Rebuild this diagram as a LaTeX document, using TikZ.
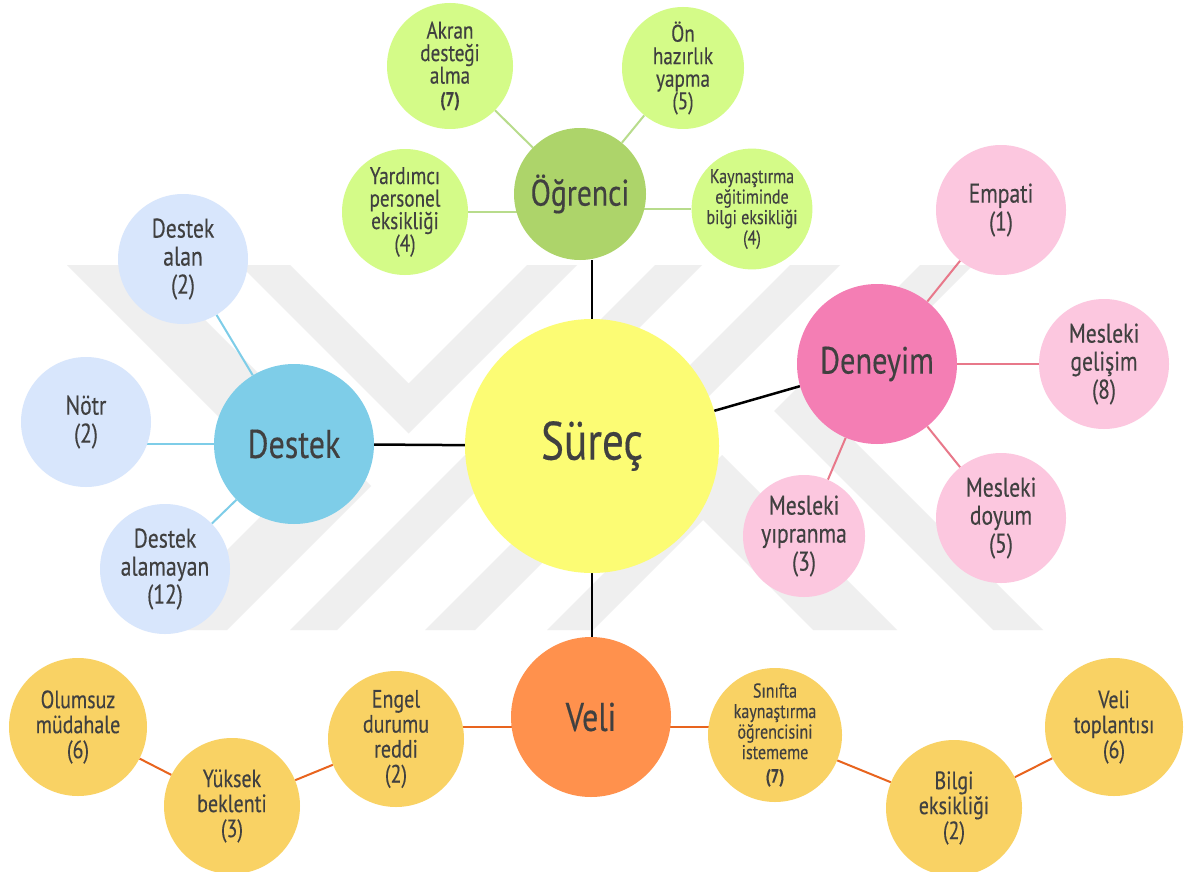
\documentclass[tikz,border=0pt]{standalone}
\usepackage{fontspec}
\setmainfont{PT Sans}[FakeStretch=0.8,FakeBold=0.3]
\usetikzlibrary{backgrounds,calc}
\definecolor{txt}{HTML}{404040}
\definecolor{cS}{HTML}{FCFC74}
\definecolor{cO}{HTML}{ADD46A}
\definecolor{cOl}{HTML}{D4FB88}
\definecolor{cOline}{HTML}{B8DC8C}
\definecolor{cD}{HTML}{7ECDE8}
\definecolor{cDl}{HTML}{D8E6FC}
\definecolor{cDline}{HTML}{7ECDE8}
\definecolor{cE}{HTML}{F47EB4}
\definecolor{cEl}{HTML}{FCC7DF}
\definecolor{cEline}{HTML}{E8788A}
\definecolor{cV}{HTML}{FF914D}
\definecolor{cVl}{HTML}{F9D264}
\definecolor{cVline}{HTML}{E8641E}
\definecolor{wmark}{HTML}{EFEFEF}
\newcommand\fsz[2]{\fontsize{#1}{#2}\selectfont}
\begin{document}
\begin{tikzpicture}[x=1pt,y=-1pt,
  bubble/.style={circle,inner sep=0pt,align=center,text=txt},
  bigsub/.style={font=\fsz{27}{28}},
  midsub/.style={font=\fsz{25}{25}},
  smallsub/.style={font=\fsz{24}{22.5}},
  tinysub/.style={font=\fsz{20}{20.5}},
  link/.style={line width=2.5pt,black},
  glink/.style={line width=2pt,cOline},
  blink/.style={line width=2pt,cDline},
  plink/.style={line width=2pt,cEline},
  olink/.style={line width=2pt,cVline},
  wm/.style={fill=wmark}]
\useasboundingbox (0,0) rectangle (1185,872);

% centre
\node[bubble,fill=cS,minimum size=254pt,font=\fsz{54}{54}] (S) at (592,446) {Süreç};

% Ogrenci group
\node[bubble,fill=cO,minimum size=132pt,font=\fsz{37}{37}] (O) at (580,194) {Öğrenci};
\node[bubble,fill=cOl,minimum size=126pt,smallsub] (A) at (450,66) {Akran\\desteği\\alma\\{\fsz{20}{20}\bfseries(7)}};
\node[bubble,fill=cOl,minimum size=122pt,smallsub] (On) at (683,68) {Ön\\hazırlık\\yapma\\(5)};
\node[bubble,fill=cOl,minimum size=126pt,smallsub] (Y) at (405,212) {Yardımcı\\personel\\eksikliği\\(4)};
\node[bubble,fill=cOl,minimum size=120pt,tinysub] (K) at (752,209) {Kaynaştırma\\eğitiminde\\bilgi eksikliği\\(4)};

% Destek group
\node[bubble,fill=cD,minimum size=160pt,font=\fsz{40}{40}] (D) at (294,444) {Destek};
\node[bubble,fill=cDl,minimum size=130pt,bigsub] (DA) at (183,259) {Destek\\alan\\(2)};
\node[bubble,fill=cDl,minimum size=130pt,bigsub] (N) at (86,422) {Nötr\\(2)};
\node[bubble,fill=cDl,minimum size=130pt,bigsub] (DM) at (165,569) {Destek\\alamayan\\(12)};

% Deneyim group
\node[bubble,fill=cE,minimum size=160pt,font=\fsz{38}{38}] (E) at (877,364) {Deneyim};
\node[bubble,fill=cEl,minimum size=130pt,bigsub] (Em) at (1001,210) {Empati\\(1)};
\node[bubble,fill=cEl,minimum size=130pt,bigsub] (MG) at (1104,364) {Mesleki\\gelişim\\(8)};
\node[bubble,fill=cEl,minimum size=130pt,bigsub] (MD) at (1001,518) {Mesleki\\doyum\\(5)};
\node[bubble,fill=cEl,minimum size=122pt,bigsub] (MY) at (804,536) {Mesleki\\yıpranma\\(3)};

% Veli group
\node[bubble,fill=cV,minimum size=160pt,font=\fsz{40}{40}] (V) at (591,717) {Veli};
\node[bubble,fill=cVl,minimum size=138pt,midsub] (OM) at (78,727) {Olumsuz\\müdahale\\(6)};
\node[bubble,fill=cVl,minimum size=136pt,midsub] (YB) at (232,806) {Yüksek\\beklenti\\(3)};
\node[bubble,fill=cVl,minimum size=136pt,midsub] (ED) at (396,739) {Engel\\durumu\\reddi\\(2)};
\node[bubble,fill=cVl,minimum size=134pt,tinysub] (SK) at (775,735) {Sınıfta\\kaynaştırma\\öğrencisini\\istememe\\[3pt]{\fsz{19}{20}\bfseries(7)}};
\node[bubble,fill=cVl,minimum size=136pt,midsub] (BE) at (954,808) {Bilgi\\eksikliği\\(2)};
\node[bubble,fill=cVl,minimum size=138pt,midsub] (VT) at (1114,727) {Veli\\toplantısı\\(6)};

\coordinate (vl) at ([yshift=-10pt]V.center);

\begin{scope}[on background layer]
  \fill[white] (0,0) rectangle (1185,872);
  % watermark
  \fill[wm] (67,265) -- (150,265) -- (371,486) -- (227,630) -- (147,630) -- (289.5,487.5) -- cycle;
  \fill[wm] (240,265) -- (290,265) -- (408.5,383.5) -- (527,265) -- (577,265) -- (408.5,433.5) -- cycle;
  \fill[wm] (290,630) -- (337,630) -- (702,265) -- (655,265) -- cycle;
  \fill[wm] (425,630) -- (475,630) -- (840,265) -- (790,265) -- cycle;
  \fill[wm] (920,265) -- (973,265) -- (825.5,412.5) -- (1043,630) -- (993,630) -- (774,411) -- cycle;
  \fill[wm] (547,630) -- (722,455) -- (897,630) -- (813,630) -- (703,520) -- (593,630) -- cycle;
  % main connectors
  \draw[link] (S.north) -- (S.north |- O.south);
  \draw[link] (S.south) -- (S.south |- V.north);
  \draw[link] (S) -- (D);
  \draw[link] (S) -- (E);
  % Ogrenci
  \draw[glink] (O) -- (A);
  \draw[glink] (O) -- (On);
  \draw[glink] (Y) -- (Y -| O);
  \draw[glink] (K) -- (K -| O);
  % Destek
  \draw[blink] (D) -- (DA);
  \draw[blink] (D) -- (D -| N);
  \draw[blink] (D) -- (DM);
  % Deneyim
  \draw[plink] (E) -- (Em);
  \draw[plink] (E) -- (MG);
  \draw[plink] (E) -- (MD);
  \draw[plink] (E) -- (MY);
  % Veli
  \draw[olink] (OM) -- (YB);
  \draw[olink] (YB) -- (ED);
  \draw[olink] (vl) -- (vl -| ED);
  \draw[olink] (vl) -- (vl -| SK);
  \draw[olink] (SK) -- (BE);
  \draw[olink] (BE) -- (VT);
\end{scope}
\end{tikzpicture}
\end{document}
